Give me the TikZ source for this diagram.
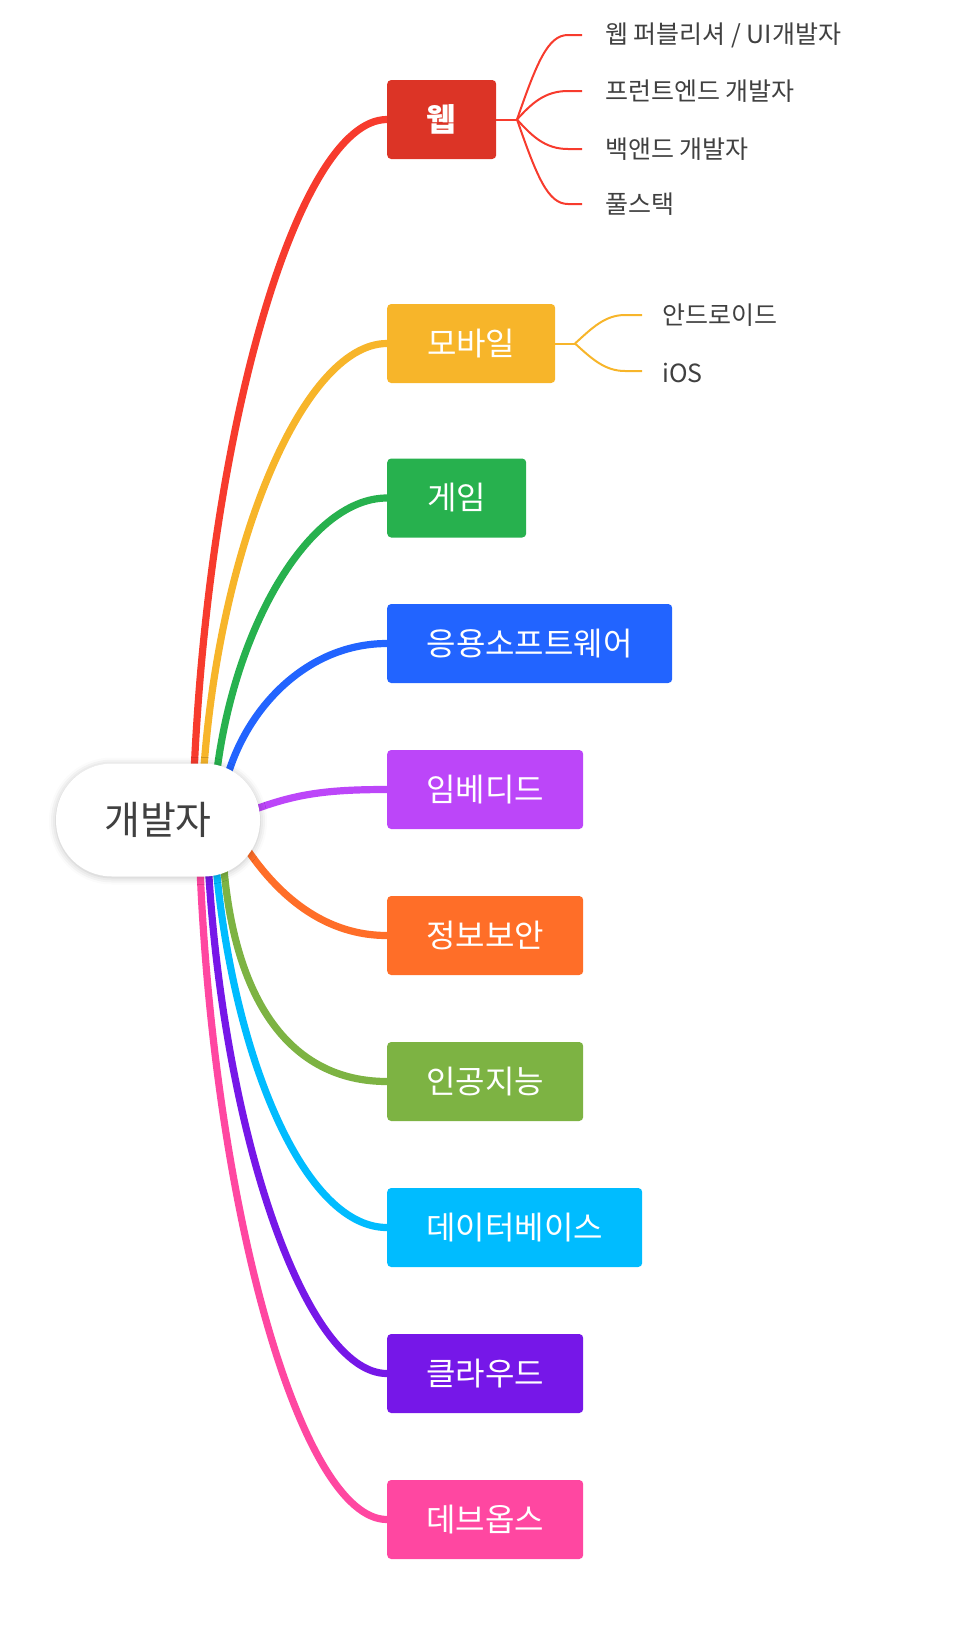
\documentclass[tikz,border=0pt]{standalone}
\usepackage{fontspec}
\setmainfont{Noto Sans CJK KR}
\usetikzlibrary{shadows.blur}
\definecolor{webbox}{HTML}{DC3426}
\definecolor{webline}{HTML}{F73B2D}
\definecolor{cmob}{HTML}{F7B52A}
\definecolor{cgame}{HTML}{27B14E}
\definecolor{capp}{HTML}{2264FF}
\definecolor{cemb}{HTML}{BC46F9}
\definecolor{csec}{HTML}{FF6E28}
\definecolor{cai}{HTML}{7DB343}
\definecolor{cdb}{HTML}{00BCFF}
\definecolor{ccloud}{HTML}{7617E8}
\definecolor{cdev}{HTML}{FF47A1}
\definecolor{txt}{HTML}{404040}
\begin{document}
\begin{tikzpicture}[x=1pt,y=-1pt,
  box/.style={rectangle, rounded corners=4pt, minimum height=79pt, inner sep=0pt,
    anchor=west, text=white, font=\fontsize{32}{38}\selectfont},
  leaf/.style={anchor=west, inner sep=0pt, text=txt, font=\fontsize{25}{30}\selectfont},
  rootbox/.style={rectangle, rounded corners=56pt, minimum width=204pt, minimum height=113pt,
    fill=white, text=txt, font=\fontsize{39}{46}\selectfont,
    blur shadow={shadow xshift=0pt, shadow yshift=-1pt, shadow blur radius=7pt, shadow opacity=25}},
  branch/.style={line width=7.2pt},
  twig/.style={line width=2pt}]
\useasboundingbox (0,0) rectangle (966,1634);

% main topic boxes
\node[box, fill=webbox, minimum width=109pt, font=\fontsize{32}{38}\selectfont\bfseries] (web) at (387,119.5) {웹};
\node[box, fill=cmob,  minimum width=168pt] (mob)   at (387,343.5)  {모바일};
\node[box, fill=cgame, minimum width=139pt] (game)  at (387,498)    {게임};
\node[box, fill=capp,  minimum width=285pt] (app)   at (387,643.5)  {응용소프트웨어};
\node[box, fill=cemb,  minimum width=196pt] (emb)   at (387,789.5)  {임베디드};
\node[box, fill=csec,  minimum width=196pt] (sec)   at (387,935.5)  {정보보안};
\node[box, fill=cai,   minimum width=196pt] (ai)    at (387,1081.5) {인공지능};
\node[box, fill=cdb,   minimum width=255pt] (db)    at (387,1227.5) {데이터베이스};
\node[box, fill=ccloud,minimum width=196pt] (cloud) at (387,1373.5) {클라우드};
\node[box, fill=cdev,  minimum width=196pt] (dev)   at (387,1519.5) {데브옵스};

% start points inside the root
\coordinate (sweb)   at (193,800);
\coordinate (smob)   at (202,800);
\coordinate (sgame)  at (214,800);
\coordinate (sapp)   at (222,800);
\coordinate (semb)   at (240,815);
\coordinate (ssec)   at (235,830);
\coordinate (sai)    at (222,840);
\coordinate (sdb)    at (214,840);
\coordinate (scloud) at (207,840);
\coordinate (sdev)   at (199,840);

% branches
\draw[branch, webline] (sweb) .. controls (205,439) and (297,119.5) .. (web.west);
\draw[branch, cmob]    (smob) .. controls (213,558) and (301,343.5) .. (mob.west);
\draw[branch, cgame]   (sgame) .. controls (226,640) and (306,498) .. (game.west);
\draw[branch, capp]    (sapp) .. controls (235,720) and (300,643.5) .. (app.west);
\draw[branch, cemb]    (semb) .. controls (290,795) and (320,789.5) .. (emb.west);
\draw[branch, csec]    (ssec) .. controls (270,890) and (320,935.5) .. (sec.west);
\draw[branch, cai]     (sai) .. controls (229,1000) and (290,1081.5) .. (ai.west);
\draw[branch, cdb]     (sdb) .. controls (227,1040) and (300,1227.5) .. (db.west);
\draw[branch, ccloud]  (scloud) .. controls (219,1123) and (304,1373.5) .. (cloud.west);
\draw[branch, cdev]    (sdev) .. controls (210,1200) and (300,1519.5) .. (dev.west);

% root
\node[rootbox] (root) at (158,820) {개발자};

% web sub-topics
\node[leaf] (w1) at (605,35)  {웹 퍼블리셔 / UI개발자};
\node[leaf] (w2) at (605,91)  {프런트엔드 개발자};
\node[leaf] (w3) at (605,149) {백앤드 개발자};
\node[leaf] (w4) at (605,204) {풀스택};
\coordinate (wf) at (517,119.5);
\coordinate (e1) at (582,35);
\coordinate (e2) at (582,91);
\coordinate (e3) at (582,149);
\coordinate (e4) at (582,204);
\draw[twig, webline] (web.east) -- (wf);
\draw[twig, webline] (wf) .. controls (537,62) and (548,35) .. (568,35) -- (e1);
\draw[twig, webline] (wf) .. controls (532,103) and (545,91) .. (568,91) -- (e2);
\draw[twig, webline] (wf) .. controls (532,136) and (545,149) .. (568,149) -- (e3);
\draw[twig, webline] (wf) .. controls (537,177) and (548,204) .. (568,204) -- (e4);

% mobile sub-topics
\node[leaf] (m1) at (662,315) {안드로이드};
\node[leaf] (m2) at (662,373) {iOS};
\coordinate (mf) at (575,343.5);
\coordinate (f1) at (642,315);
\coordinate (f2) at (642,371);
\draw[twig, cmob] (mob.east) -- (mf);
\draw[twig, cmob] (mf) .. controls (592,328) and (605,315) .. (625,315) -- (f1);
\draw[twig, cmob] (mf) .. controls (592,359) and (605,371) .. (625,371) -- (f2);
\end{tikzpicture}
\end{document}
